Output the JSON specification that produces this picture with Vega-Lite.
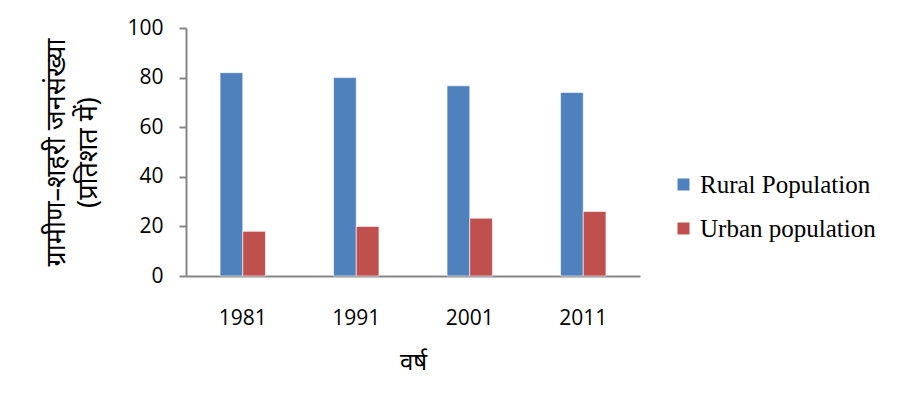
{
  "$schema": "https://vega.github.io/schema/vega-lite/v6.json",
  "width": 454,
  "height": 248,
  "autosize": "none",
  "padding": {"left": 186, "top": 28, "right": 259, "bottom": 134},
  "background": "white",
  "data": {
    "values": [
      {"year": "1981", "series": "Rural Population", "value": 82},
      {"year": "1981", "series": "Urban population", "value": 18},
      {"year": "1991", "series": "Rural Population", "value": 80},
      {"year": "1991", "series": "Urban population", "value": 20},
      {"year": "2001", "series": "Rural Population", "value": 76.7},
      {"year": "2001", "series": "Urban population", "value": 23.3},
      {"year": "2011", "series": "Rural Population", "value": 74},
      {"year": "2011", "series": "Urban population", "value": 26}
    ]
  },
  "mark": {"type": "bar", "stroke": "#ffffff", "strokeOpacity": 0.6, "strokeWidth": 1},
  "encoding": {
    "x": {
      "field": "year", "type": "nominal", "sort": null,
      "scale": {"paddingInner": 0.6, "paddingOuter": 0.3},
      "axis": {
        "title": "वर्ष", "labelAngle": 0, "ticks": false, "labelPadding": 31,
        "titlePadding": 22, "domainColor": "#868686", "domainWidth": 2,
        "labelFont": "Open Sans", "labelFontSize": 21, "labelColor": "#000000",
        "titleFont": "Noto Sans", "titleFontSize": 24, "titleFontWeight": "normal", "titleColor": "#000000"
      }
    },
    "xOffset": {"field": "series", "type": "nominal", "scale": {"paddingInner": 0, "paddingOuter": 0}},
    "y": {
      "field": "value", "type": "quantitative",
      "scale": {"domain": [0, 100]},
      "axis": {
        "values": [0, 20, 40, 60, 80, 100],
        "title": ["ग्रामीण–शहरी जनसंख्या", "(प्रतिशत में)"],
        "grid": false, "tickSize": 7, "tickColor": "#868686", "tickWidth": 2,
        "domainColor": "#868686", "domainWidth": 2, "labelPadding": 16,
        "labelFont": "Open Sans", "labelFontSize": 21, "labelColor": "#000000",
        "titleFont": "Noto Sans", "titleFontSize": 27, "titleFontWeight": "normal", "titleColor": "#000000",
        "titleLineHeight": 32, "titlePadding": 24
      }
    },
    "color": {
      "field": "series", "type": "nominal",
      "scale": {"domain": ["Rural Population", "Urban population"], "range": ["#4F81BD", "#C0504D"]},
      "legend": {
        "title": null, "orient": "none", "legendX": 485, "legendY": 144,
        "symbolType": "square", "symbolSize": 144, "symbolStrokeWidth": 0, "symbolOpacity": 1,
        "labelFont": "Liberation Serif", "labelFontSize": 25, "labelColor": "#000000",
        "labelOffset": 4, "rowPadding": 18, "labelLimit": 300
      }
    }
  },
  "config": {"view": {"stroke": null}}
}
